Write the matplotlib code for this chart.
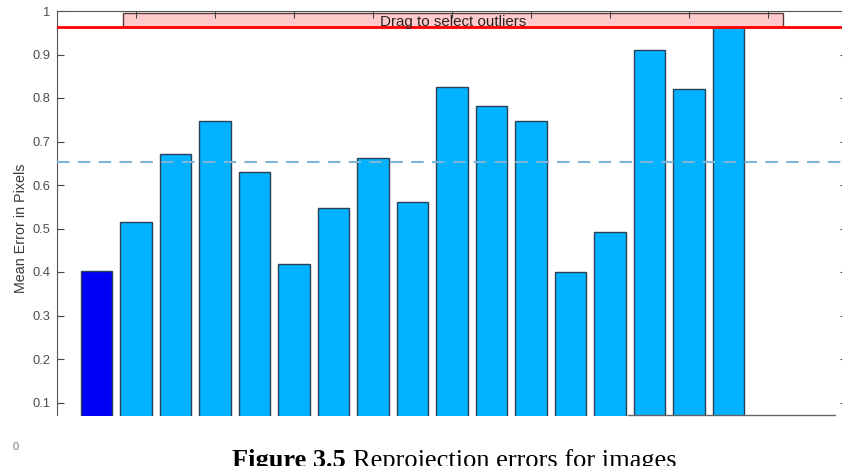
import matplotlib.pyplot as plt
from matplotlib.patches import Rectangle
from matplotlib.lines import Line2D
import numpy as np

plt.rcParams['font.family'] = ['Liberation Sans', 'DejaVu Sans']

# mean reprojection error per image
images = list(range(1, 18))
errors = [0.403, 0.514, 0.671, 0.746, 0.629, 0.418, 0.547, 0.662, 0.562,
          0.826, 0.782, 0.748, 0.401, 0.492, 0.910, 0.820, 0.963]
selected = [1]
threshold = 0.9635
yticks = [0, 0.1, 0.2, 0.3, 0.4, 0.5, 0.6, 0.7, 0.8, 0.9, 1]
ytick_labels = ['0', '0.1', '0.2', '0.3', '0.4', '0.5', '0.6', '0.7', '0.8', '0.9', '1']
xticks = [2, 4, 6, 8, 10, 12, 14, 16, 18]

W, H = 842, 466
fig = plt.figure(figsize=(W / 100, H / 100), dpi=100)
ax = fig.add_axes([57 / W, 20 / H, (847 - 57) / W, 435 / H])

colors = ['#0000f5' if i in selected else '#00b2ff' for i in images]
ax.bar(images, errors, width=0.8, color=colors, edgecolor='#2d3f55', linewidth=1.0, zorder=2)

mean_err = np.mean(errors)
ax.axhline(mean_err, color='#7db4da', linestyle=(0, (6, 4)), linewidth=1.5, zorder=3)

# outlier selection box
box = Rectangle((1.67, threshold), 16.71, 0.996 - threshold, facecolor='#ffcaca',
                edgecolor='#5a3a3a', linewidth=1.0, zorder=1)
ax.add_patch(box)
ax.text(1.67 + 16.71 / 2, threshold + 0.002, 'Drag to select outliers', ha='center',
        va='baseline', fontsize=10.9, color='#2a2222', zorder=5)
ax.axhline(threshold, color='#ff0000', linewidth=2.0, zorder=4)

ax.set_xlim(0, 20)
ax.set_ylim(0, 1)
ax.set_xticks(xticks)
ax.set_xticklabels([])
ax.set_yticks(yticks)
ax.set_yticklabels(ytick_labels)
ax.tick_params(direction='in', length=5, top=True, right=True, color='#444444',
               labelcolor='#4d4d4d', labelsize=9.3, pad=5)
for s in ax.spines.values():
    s.set_color('#555555')
ax.set_ylabel('Mean Error in Pixels', fontsize=10.3, color='#3a3a3a', labelpad=3)

# the page covers the bottom of the axes
fig.patches.append(Rectangle((25 / W, 0), 1, (H - 416) / H, transform=fig.transFigure,
                             facecolor='white', edgecolor='none', zorder=10))
fig.lines.append(Line2D([628 / W, 835 / W], [(H - 415) / H] * 2, transform=fig.transFigure,
                        color='#666666', linewidth=1.0, zorder=11))
fig.text(16 / W, (H - 447) / H, '0', fontsize=8, color='#777777', ha='center', va='center')

# caption
base_y = -1.5 / H
t1 = fig.text(232 / W, base_y, 'Figure 3.5', family='Liberation Serif', fontsize=19,
              fontweight='bold', ha='left', va='baseline', zorder=12)
renderer = fig.canvas.get_renderer()
bb = t1.get_window_extent(renderer)
fig.text((bb.x1 + 7) / W, base_y, 'Reprojection errors for images', family='Liberation Serif',
         fontsize=19, ha='left', va='baseline', zorder=12)

fig.savefig('out.png', dpi=100)
